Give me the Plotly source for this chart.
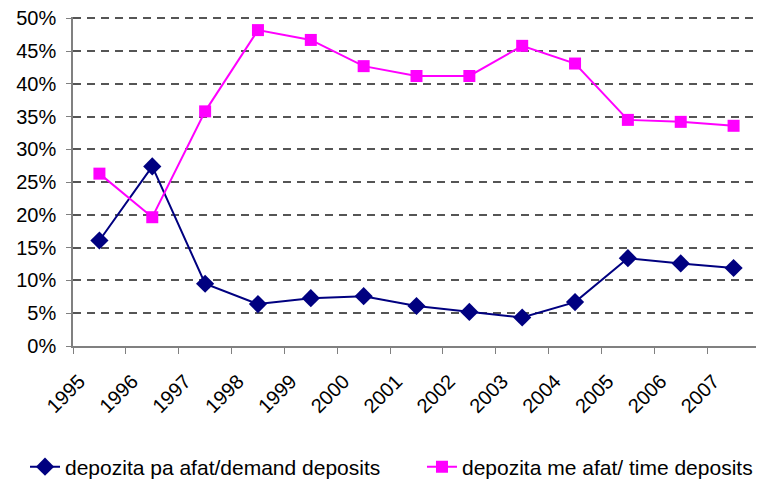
import plotly.graph_objects as go

years = ['1995', '1996', '1997', '1998', '1999', '2000', '2001',
         '2002', '2003', '2004', '2005', '2006', '2007']
demand = [0.161, 0.274, 0.095, 0.064, 0.073, 0.076, 0.061,
          0.052, 0.0435, 0.067, 0.134, 0.126, 0.119]
time_dep = [0.263, 0.1965, 0.358, 0.482, 0.467, 0.427, 0.412,
            0.412, 0.458, 0.431, 0.345, 0.342, 0.336]

FONT = 'Liberation Sans, Arial, sans-serif'

data = [
    go.Scatter(x=years, y=demand, name='depozita pa afat/demand deposits',
               mode='lines+markers', legend='legend',
               line=dict(color='#000080', width=2),
               marker=dict(symbol='diamond', size=14, color='#000080')),
    go.Scatter(x=years, y=time_dep, name='depozita me afat/ time deposits',
               mode='lines+markers', legend='legend2',
               line=dict(color='#FF00FF', width=2),
               marker=dict(symbol='square', size=12, color='#FF00FF')),
]

# page body has an 8px margin, so the figure is sized to fit the window
legend_style = dict(orientation='h', xref='container', yref='container',
                    y=0.0337, xanchor='left', yanchor='middle',
                    font=dict(size=21), itemwidth=30)

layout = go.Layout(
    width=756, height=475,
    margin=dict(l=65, r=4, t=9, b=137, autoexpand=False),
    paper_bgcolor='white', plot_bgcolor='white',
    font=dict(family=FONT, size=20, color='black'),
    xaxis=dict(type='category', range=[-0.5, len(years) - 0.5],
               tickangle=-45, tickson='boundaries',
               ticks='outside', ticklen=6, tickcolor='#808080',
               showline=True, linecolor='#808080', linewidth=1.5,
               showgrid=False, ticklabelshift=-20, ticklabelstandoff=14,
               automargin=False, tickfont=dict(size=20)),
    yaxis=dict(range=[0, 0.502], dtick=0.05, tickformat='.0%',
               ticks='outside', ticklen=5, tickcolor='#808080',
               showline=True, linecolor='#808080', linewidth=1.5,
               showgrid=True, gridcolor='#555555', gridwidth=1.5,
               griddash='8px,6px', zeroline=False, automargin=False,
               ticklabeloverflow='allow',
               ticklabelstandoff=6, tickfont=dict(size=20)),
    showlegend=True,
    legend=dict(legend_style, x=0.0225),
    legend2=dict(legend_style, x=0.5476),
)

fig = go.Figure(data=data, layout=layout)
fig.write_html("out.html")
